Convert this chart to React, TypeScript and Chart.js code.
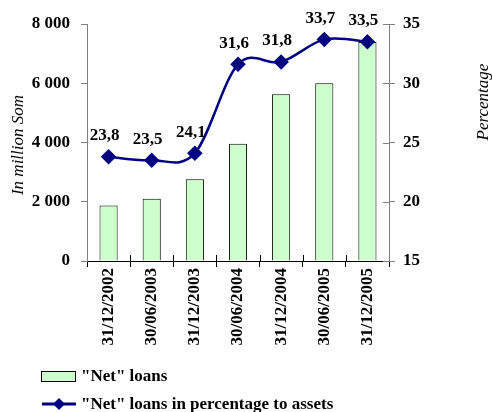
import React, { useEffect, useRef } from "react";
import { Chart, registerables } from "chart.js";

Chart.register(...registerables);

const categories = [
  "31/12/2002",
  "30/06/2003",
  "31/12/2003",
  "30/06/2004",
  "31/12/2004",
  "30/06/2005",
  "31/12/2005",
];
const netLoans = [1870, 2100, 2760, 3960, 5630, 6000, 7390];
const loansPctAssets = [23.8, 23.5, 24.1, 31.6, 31.8, 33.7, 33.5];
const leftTicks = [0, 2000, 4000, 6000, 8000];
const rightTicks = [15, 20, 25, 30, 35];

const barLabel = '"Net" loans';
const lineLabel = '"Net" loans in percentage to assets';
const leftTitle = "In million Som";
const rightTitle = "Percentage";

const FONT = "'Liberation Serif', 'Times New Roman', serif";
const NAVY = "#000080";
const BAR_FILL = "#CCFFCC";
const AXIS_GRAY = "#808080";

const fmtThousands = (v: number) =>
  String(v).replace(/\B(?=(\d{3})+(?!\d))/g, " ");

// Excel-like smoothing (Catmull-Rom, 1/6 tangents)
const smoothPlugin = {
  id: "excelSmooth",
  beforeDatasetDraw(chart: any, args: any) {
    if (args.index !== 1) return;
    const meta = chart.getDatasetMeta(1);
    const line = meta.dataset;
    if (line && line.updateControlPoints) line.updateControlPoints(chart.chartArea, "x");
    const pts = meta.data;
    const n = pts.length;
    for (let i = 0; i < n; i++) {
      const prev = pts[Math.max(i - 1, 0)];
      const next = pts[Math.min(i + 1, n - 1)];
      const dx = (next.x - prev.x) / 6;
      const dy = (next.y - prev.y) / 6;
      pts[i].cp1x = pts[i].x - dx;
      pts[i].cp1y = pts[i].y - dy;
      pts[i].cp2x = pts[i].x + dx;
      pts[i].cp2y = pts[i].y + dy;
    }
  },
};

const decorPlugin = {
  id: "decor",
  afterDraw(chart: any) {
    const ctx = chart.ctx as CanvasRenderingContext2D;
    const area = chart.chartArea;
    const yR = chart.scales.yR;
    ctx.save();

    // inward tick parts (cross ticks)
    ctx.lineWidth = 1;
    ctx.strokeStyle = "#000";
    for (let i = 1; i < categories.length; i++) {
      const px = Math.round(area.left + ((area.right - area.left) * i) / categories.length) + 0.5;
      ctx.beginPath();
      ctx.moveTo(px, area.bottom - 6);
      ctx.lineTo(px, area.bottom);
      ctx.stroke();
    }
    ctx.strokeStyle = AXIS_GRAY;
    rightTicks.forEach((t) => {
      const py = Math.round(yR.getPixelForValue(t)) + 0.5;
      ctx.beginPath();
      ctx.moveTo(area.right - 6, py);
      ctx.lineTo(area.right, py);
      ctx.stroke();
    });

    // data labels for line
    const meta = chart.getDatasetMeta(1);
    ctx.fillStyle = "#000";
    ctx.font = `bold 17px ${FONT}`;
    ctx.textAlign = "center";
    ctx.textBaseline = "middle";
    meta.data.forEach((pt: any, i: number) => {
      const txt = loansPctAssets[i].toFixed(1).replace(".", ",");
      ctx.fillText(txt, pt.x - 4, pt.y - 21);
    });

    // axis titles
    ctx.font = `italic 17px ${FONT}`;
    ctx.save();
    ctx.translate(19, 145);
    ctx.rotate(-Math.PI / 2);
    ctx.fillText(leftTitle, 0, 0);
    ctx.restore();
    ctx.save();
    ctx.translate(484, 102);
    ctx.rotate(-Math.PI / 2);
    ctx.fillText(rightTitle, 0, 0);
    ctx.restore();

    // legend
    ctx.font = `bold 17px ${FONT}`;
    ctx.textAlign = "left";
    ctx.fillStyle = BAR_FILL;
    ctx.fillRect(42, 372, 33, 10);
    ctx.strokeStyle = "#000";
    ctx.lineWidth = 1;
    ctx.strokeRect(41.5, 371.5, 34, 10);
    ctx.fillStyle = "#000";
    ctx.fillText(barLabel, 81, 377);

    ctx.strokeStyle = NAVY;
    ctx.lineWidth = 3;
    ctx.beginPath();
    ctx.moveTo(42, 404);
    ctx.lineTo(76, 404);
    ctx.stroke();
    ctx.fillStyle = NAVY;
    ctx.beginPath();
    ctx.moveTo(59, 398);
    ctx.lineTo(65, 404);
    ctx.lineTo(59, 410);
    ctx.lineTo(53, 404);
    ctx.closePath();
    ctx.fill();
    ctx.fillStyle = "#000";
    ctx.fillText(lineLabel, 81, 405);

    ctx.restore();
  },
};

export default function App() {
  const ref = useRef<HTMLCanvasElement | null>(null);

  useEffect(() => {
    document.body.style.margin = "0";
    const canvas = ref.current;
    if (!canvas) return;
    const chart = new Chart(canvas, {
      type: "bar",
      data: {
        labels: categories,
        datasets: [
          {
            type: "bar",
            label: barLabel,
            data: netLoans,
            backgroundColor: BAR_FILL,
            borderColor: "#000",
            borderWidth: 1,
            barPercentage: 0.42,
            categoryPercentage: 1,
            yAxisID: "yL",
            order: 2,
          },
          {
            type: "line",
            label: lineLabel,
            data: loansPctAssets,
            borderColor: NAVY,
            backgroundColor: NAVY,
            borderWidth: 2.5,
            tension: 0.4,
            pointStyle: "rectRot",
            pointRadius: 6,
            pointHoverRadius: 6,
            yAxisID: "yR",
            order: 1,
          } as any,
        ],
      },
      options: {
        responsive: false,
        animation: false,
        events: [],
        layout: { padding: { top: 24, left: 0, right: 0, bottom: 0 } },
        plugins: {
          legend: { display: false },
          tooltip: { enabled: false },
          title: { display: false },
        },
        scales: {
          x: {
            type: "category",
            offset: true,
            grid: {
              offset: true,
              drawOnChartArea: false,
              drawTicks: true,
              tickLength: 6,
              color: "#000",
            },
            border: { display: true, color: "#000", width: 1 },
            ticks: {
              color: "#000",
              font: { family: FONT, size: 17, weight: "bold" },
              minRotation: 90,
              maxRotation: 90,
              padding: 1,
              autoSkip: false,
            },
            afterFit: (s: any) => {
              s.height = 412 - 261;
            },
          },
          yL: {
            type: "linear",
            position: "left",
            min: 0,
            max: 8000,
            afterBuildTicks: (s: any) => {
              s.ticks = leftTicks.map((v) => ({ value: v }));
            },
            grid: {
              drawOnChartArea: false,
              drawTicks: true,
              tickLength: 6,
              color: AXIS_GRAY,
            },
            border: { display: true, color: AXIS_GRAY, width: 1 },
            ticks: {
              color: "#000",
              font: { family: FONT, size: 17, weight: "bold" },
              padding: 11,
              callback: (v: any) => fmtThousands(Number(v)),
            },
            afterFit: (s: any) => {
              s.width = 87;
            },
          },
          yR: {
            type: "linear",
            position: "right",
            min: 15,
            max: 35,
            afterBuildTicks: (s: any) => {
              s.ticks = rightTicks.map((v) => ({ value: v }));
            },
            grid: {
              drawOnChartArea: false,
              drawTicks: true,
              tickLength: 6,
              color: AXIS_GRAY,
            },
            border: { display: true, color: AXIS_GRAY, width: 1 },
            ticks: {
              color: "#000",
              font: { family: FONT, size: 17, weight: "bold" },
              padding: 8,
              callback: (v: any) => String(v),
            },
            afterFit: (s: any) => {
              s.width = 493 - 389;
            },
          },
        },
      },
      plugins: [smoothPlugin, decorPlugin],
    } as any);
    return () => chart.destroy();
  }, []);

  return (
    <div style={{ width: 493, height: 412, background: "#fff" }}>
      <canvas ref={ref} width={493} height={412} style={{ display: "block" }} />
    </div>
  );
}
